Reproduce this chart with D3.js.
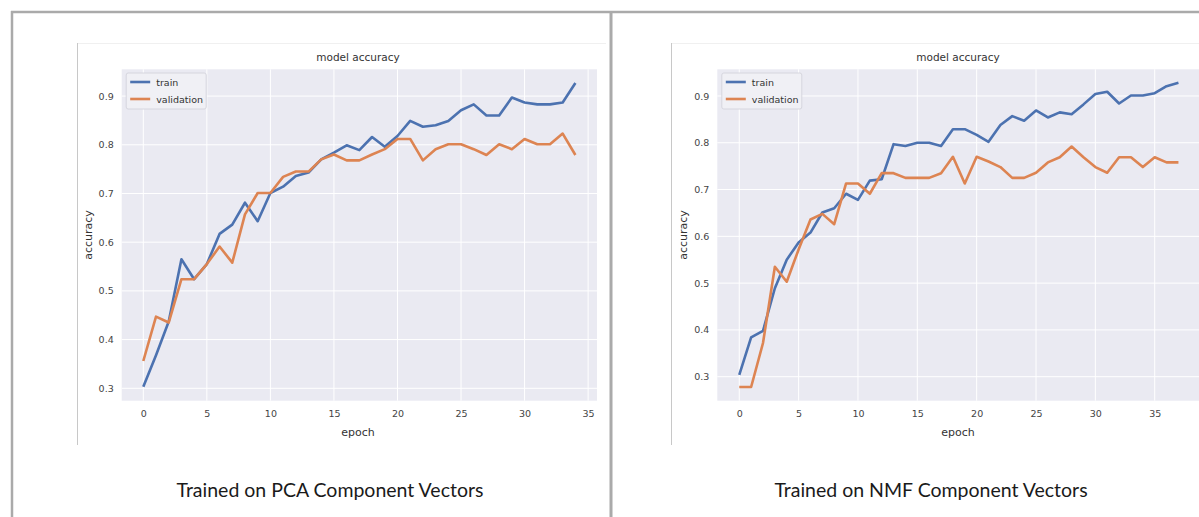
<!DOCTYPE html>
<html>
<head>
<meta charset="utf-8">
<script src="https://cdn.jsdelivr.net/npm/d3@7"></script>
<style>
  body { margin: 0; background: #fff; }
  svg { display: block; }
  .tick text { font-family: "DejaVu Sans", sans-serif; font-size: 9.5px; fill: #444; }
</style>
</head>
<body>
<svg id="chart" width="1199" height="517"></svg>
<script>
// values
var pcaTrain = [0.303, 0.368, 0.437, 0.565, 0.524, 0.555, 0.617, 0.636, 0.681, 0.643,
                0.701, 0.714, 0.736, 0.743, 0.770, 0.784, 0.799, 0.789, 0.816, 0.796,
                0.818, 0.849, 0.837, 0.840, 0.849, 0.871, 0.883, 0.860, 0.860, 0.897,
                0.887, 0.883, 0.883, 0.887, 0.927];
var pcaVal = [0.356, 0.447, 0.435, 0.524, 0.524, 0.555, 0.591, 0.558, 0.657, 0.701,
              0.701, 0.734, 0.745, 0.745, 0.770, 0.780, 0.768, 0.768, 0.780, 0.791,
              0.812, 0.812, 0.768, 0.791, 0.801, 0.801, 0.791, 0.779, 0.801, 0.791,
              0.812, 0.801, 0.801, 0.823, 0.779];
var nmfTrain = [0.304, 0.384, 0.398, 0.489, 0.550, 0.587, 0.608, 0.651, 0.660, 0.691,
                0.678, 0.719, 0.722, 0.797, 0.793, 0.800, 0.800, 0.793, 0.829, 0.829,
                0.817, 0.802, 0.838, 0.857, 0.847, 0.869, 0.854, 0.865, 0.861, 0.882,
                0.904, 0.909, 0.884, 0.901, 0.901, 0.906, 0.921, 0.928];
var nmfVal = [0.278, 0.278, 0.372, 0.535, 0.503, 0.572, 0.636, 0.648, 0.626, 0.713,
              0.713, 0.691, 0.735, 0.735, 0.725, 0.725, 0.725, 0.735, 0.770, 0.713,
              0.770, 0.760, 0.748, 0.725, 0.725, 0.736, 0.758, 0.769, 0.792, 0.769,
              0.748, 0.736, 0.769, 0.769, 0.748, 0.769, 0.758, 0.758];

var xTicks = [0, 5, 10, 15, 20, 25, 30, 35];
var yTicks = [0.3, 0.4, 0.5, 0.6, 0.7, 0.8, 0.9];
var seriesNames = ["train", "validation"];
var chartTitle = "model accuracy";
var captions = ["Trained on PCA Component Vectors", "Trained on NMF Component Vectors"];

var colors = ["#4c72b0", "#dd8452"];

var svg = d3.select("#chart");

// outer frame
svg.append("line").attr("x1", 11).attr("x2", 1199).attr("y1", 12).attr("y2", 12)
    .attr("stroke", "#aaa").attr("stroke-width", 2.5);
svg.append("line").attr("x1", 12).attr("x2", 12).attr("y1", 11).attr("y2", 517)
    .attr("stroke", "#aaa").attr("stroke-width", 2.5);
svg.append("line").attr("x1", 611).attr("x2", 611).attr("y1", 11).attr("y2", 517)
    .attr("stroke", "#aaa").attr("stroke-width", 3);

function drawPanel(opts) {
    var g = svg.append("g");

    // edge of the pasted image
    g.append("line").attr("x1", opts.imgLeft).attr("x2", opts.imgRight)
        .attr("y1", 43.5).attr("y2", 43.5).attr("stroke", "#f0f0f0");
    g.append("line").attr("x1", opts.imgLeft).attr("x2", opts.imgLeft)
        .attr("y1", 43).attr("y2", 445).attr("stroke", "#c8c8c8");

    var x = d3.scaleLinear().domain(opts.xDomain).range([opts.left, opts.right]);
    var y = d3.scaleLinear().domain(opts.yDomain).range([400.7, 69.3]);

    g.append("rect")
        .attr("x", opts.left).attr("y", 69.3)
        .attr("width", opts.right - opts.left).attr("height", 400.7 - 69.3)
        .attr("fill", "#eaeaf2");

    // grid
    g.selectAll(".vgrid").data(xTicks).enter().append("line")
        .attr("x1", function (d) { return x(d); }).attr("x2", function (d) { return x(d); })
        .attr("y1", 69.3).attr("y2", 400.7)
        .attr("stroke", "#fff").attr("stroke-width", 1);
    g.selectAll(".hgrid").data(yTicks).enter().append("line")
        .attr("x1", opts.left).attr("x2", opts.right)
        .attr("y1", function (d) { return y(d); }).attr("y2", function (d) { return y(d); })
        .attr("stroke", "#fff").attr("stroke-width", 1);

    g.append("g")
        .attr("transform", "translate(0,400.7)")
        .call(d3.axisBottom(x).tickValues(xTicks).tickSize(0).tickPadding(10).tickFormat(d3.format("d")))
        .call(function (a) { a.select(".domain").remove(); });

    g.append("g")
        .attr("transform", "translate(" + opts.left + ",0)")
        .call(d3.axisLeft(y).tickValues(yTicks).tickSize(0).tickPadding(8).tickFormat(d3.format(".1f")))
        .call(function (a) { a.select(".domain").remove(); });

    var line = d3.line()
        .x(function (d, i) { return x(i); })
        .y(function (d) { return y(d); });

    [opts.train, opts.val].forEach(function (s, k) {
        g.append("path")
            .datum(s)
            .attr("d", line)
            .attr("fill", "none")
            .attr("stroke", colors[k])
            .attr("stroke-width", 2.6)
            .attr("stroke-linejoin", "round");
    });

    // title and axis labels
    g.append("text").attr("x", opts.titleX).attr("y", 61)
        .attr("text-anchor", "middle")
        .style("font-family", "DejaVu Sans, sans-serif").style("font-size", "10.5px")
        .style("fill", "#333").text(chartTitle);
    g.append("text").attr("x", opts.titleX).attr("y", 436)
        .attr("text-anchor", "middle")
        .style("font-family", "DejaVu Sans, sans-serif").style("font-size", "11px")
        .style("fill", "#333").text("epoch");
    g.append("text")
        .attr("transform", "translate(" + (opts.left - 30) + ",235)rotate(-90)")
        .attr("text-anchor", "middle")
        .style("font-family", "DejaVu Sans, sans-serif").style("font-size", "11px")
        .style("fill", "#333").text("accuracy");

    // legend
    var lg = g.append("g").attr("transform", "translate(" + (opts.left + 4.5) + ",73)");
    lg.append("rect").attr("width", 80).attr("height", 36).attr("rx", 2)
        .attr("fill", "#f0f0f5").attr("stroke", "#d6d6de");
    seriesNames.forEach(function (n, k) {
        lg.append("line").attr("x1", 4).attr("x2", 24)
            .attr("y1", 9 + k * 17).attr("y2", 9 + k * 17)
            .attr("stroke", colors[k]).attr("stroke-width", 2.6);
        lg.append("text").attr("x", 30).attr("y", 12.5 + k * 17)
            .style("font-family", "DejaVu Sans, sans-serif").style("font-size", "9.5px")
            .style("fill", "#333").text(n);
    });

    // caption
    svg.append("text").attr("x", opts.captionX).attr("y", 497)
        .attr("text-anchor", "middle")
        .style("font-family", "Lato, sans-serif").style("font-size", "19.5px")
        .style("fill", "#1a1a1a").text(opts.caption);
}

drawPanel({
    train: pcaTrain, val: pcaVal,
    xDomain: [-1.7, 35.7], yDomain: [0.2745, 0.955],
    left: 121.7, right: 597,
    imgLeft: 77.5, imgRight: 606,
    titleX: 358, captionX: 330, caption: captions[0]
});

drawPanel({
    train: nmfTrain, val: nmfVal,
    xDomain: [-1.85, 38.85], yDomain: [0.2487, 0.957],
    left: 717.3, right: 1200.4,
    imgLeft: 671.5, imgRight: 1199,
    titleX: 958, captionX: 931, caption: captions[1]
});
</script>
</body>
</html>
